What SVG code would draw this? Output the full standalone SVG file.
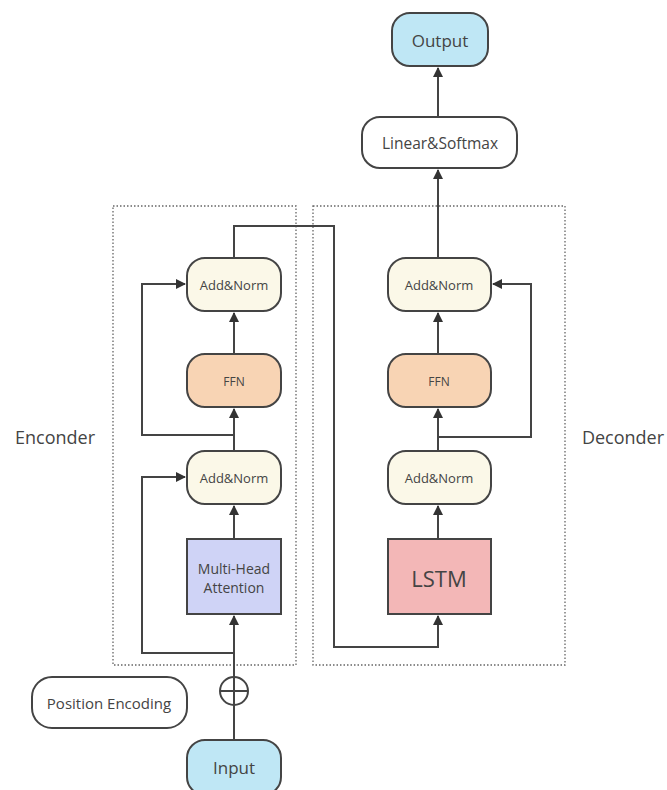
<svg xmlns="http://www.w3.org/2000/svg" width="667" height="790" viewBox="0 0 667 790">
<defs>
<marker id="arr" markerWidth="10" markerHeight="10" refX="9" refY="5" orient="auto" markerUnits="userSpaceOnUse">
<path d="M0,0 L10,5 L0,10 Z" fill="#333"/>
</marker>
<style>
.box{stroke:#444;stroke-width:2}
.t{font-family:"Open Sans","Noto Sans",sans-serif;fill:#444;text-anchor:middle;dominant-baseline:central}
.c{fill:none;stroke:#444;stroke-width:2}
.dot{fill:none;stroke:#666;stroke-width:1.3;stroke-dasharray:1.5 2}
</style>
</defs>
<rect width="667" height="790" fill="#fff"/>
<g id="containers">
<rect class="dot" x="113" y="206" width="183" height="459"/>
<rect class="dot" x="313" y="206" width="252" height="459"/>
</g>
<g id="connectors">
<line class="c" x1="234" y1="740" x2="234" y2="616" marker-end="url(#arr)"/>
<polyline class="c" points="234,653 142,653 142,477 185,477" marker-end="url(#arr)"/>
<line class="c" x1="234" y1="539" x2="234" y2="506" marker-end="url(#arr)"/>
<line class="c" x1="234" y1="451" x2="234" y2="409" marker-end="url(#arr)"/>
<polyline class="c" points="234,435 142,435 142,284 185,284" marker-end="url(#arr)"/>
<line class="c" x1="234" y1="354" x2="234" y2="313" marker-end="url(#arr)"/>
<polyline class="c" points="234,258 234,226 334,226 334,647 438,647 438,616" marker-end="url(#arr)"/>
<line class="c" x1="438" y1="539" x2="438" y2="506" marker-end="url(#arr)"/>
<line class="c" x1="438" y1="451" x2="438" y2="409" marker-end="url(#arr)"/>
<polyline class="c" points="438,437 531,437 531,284 493,284" marker-end="url(#arr)"/>
<line class="c" x1="438" y1="354" x2="438" y2="313" marker-end="url(#arr)"/>
<line class="c" x1="438" y1="258" x2="438" y2="170" marker-end="url(#arr)"/>
<line class="c" x1="438" y1="117" x2="438" y2="68" marker-end="url(#arr)"/>
</g>
<g id="plus">
<circle cx="234" cy="691" r="14" fill="#fff" stroke="#444" stroke-width="2"/>
<line class="c" x1="220" y1="691" x2="248" y2="691"/>
<line class="c" x1="234" y1="677" x2="234" y2="705"/>
</g>
<g id="output"><rect class="box" x="392" y="13" width="96" height="53" rx="18" fill="#bfe7f5"/><text class="t" x="440" y="40" font-size="17">Output</text></g>
<g id="linear"><rect class="box" x="362" y="117" width="155" height="51" rx="18" fill="#fff"/><text class="t" x="440" y="143" font-size="15.5">Linear&amp;Softmax</text></g>
<g id="enc-addnorm2"><rect class="box" x="187" y="258" width="94" height="53" rx="18" fill="#fbf8e8"/><text class="t" x="234" y="285" font-size="13">Add&amp;Norm</text></g>
<g id="enc-ffn"><rect class="box" x="187" y="354" width="94" height="53" rx="18" fill="#f8d4b4"/><text class="t" x="234" y="381" font-size="12">FFN</text></g>
<g id="enc-addnorm1"><rect class="box" x="187" y="451" width="94" height="53" rx="18" fill="#fbf8e8"/><text class="t" x="234" y="478" font-size="13">Add&amp;Norm</text></g>
<g id="mha"><rect class="box" x="187" y="539" width="94" height="75" fill="#cfd3f6"/><text class="t" x="234" y="568" font-size="14">Multi-Head</text><text class="t" x="234" y="587" font-size="14">Attention</text></g>
<g id="dec-addnorm2"><rect class="box" x="388" y="258" width="103" height="53" rx="18" fill="#fbf8e8"/><text class="t" x="439" y="285" font-size="13">Add&amp;Norm</text></g>
<g id="dec-ffn"><rect class="box" x="388" y="354" width="103" height="53" rx="18" fill="#f8d4b4"/><text class="t" x="439" y="381" font-size="12">FFN</text></g>
<g id="dec-addnorm1"><rect class="box" x="388" y="451" width="103" height="53" rx="18" fill="#fbf8e8"/><text class="t" x="439" y="478" font-size="13">Add&amp;Norm</text></g>
<g id="lstm"><rect class="box" x="388" y="539" width="103" height="75" fill="#f3b7b7"/><text class="t" x="439" y="578" font-size="22">LSTM</text></g>
<g id="posenc"><rect class="box" x="32" y="677" width="155" height="51" rx="20" fill="#fff"/><text class="t" x="109" y="703" font-size="15">Position Encoding</text></g>
<g id="input"><rect class="box" x="187" y="740" width="94" height="55" rx="18" fill="#bfe7f5"/><text class="t" x="234" y="767" font-size="17">Input</text></g>
<g id="labels">
<text class="t" x="55" y="437" font-size="18">Enconder</text>
<text class="t" x="623" y="437" font-size="18">Deconder</text>
</g>
</svg>
